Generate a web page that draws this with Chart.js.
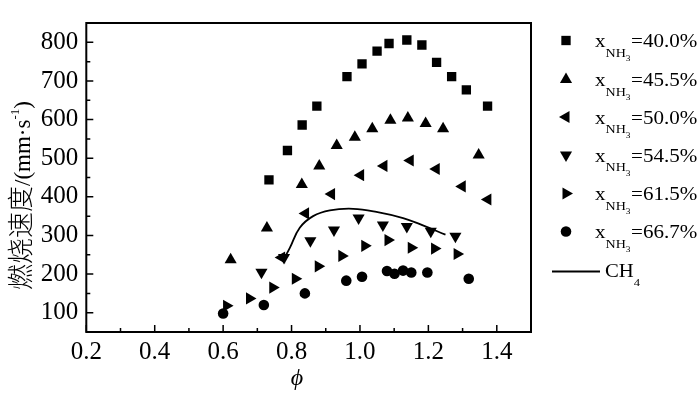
<!DOCTYPE html>
<html><head><meta charset="utf-8">
<script src="https://cdn.jsdelivr.net/npm/chart.js@4.4.1/dist/chart.umd.min.js"></script>
<style>html,body{margin:0;padding:0;background:#fff}#wrap{width:700px;height:396px;position:relative}</style>
</head><body><div id="wrap"><canvas id="c" width="700" height="396"></canvas></div>
<script>
// ---- data ----
const phi40 = [0.734,0.788,0.831,0.874,0.962,1.006,1.050,1.085,1.137,1.181,1.224,1.268,1.311,1.373];
const v40   = [444,520,586,635,711,744,777,797,806,793,748,711,677,635];
const phi45 = [0.622,0.728,0.830,0.881,0.932,0.985,1.036,1.089,1.140,1.192,1.243,1.347];
const v45   = [237,319,432,480,533,554,576,598,604,590,576,508];
const phi50 = [0.771,0.841,0.917,1.002,1.070,1.147,1.223,1.299,1.374];
const v50   = [243,357,407,456,480,494,472,427,393];
const phi54 = [0.712,0.778,0.855,0.924,0.996,1.067,1.137,1.207,1.279];
const v54   = [205,243,286,314,345,327,323,311,298];
const phi61 = [0.610,0.677,0.745,0.811,0.878,0.947,1.014,1.082,1.150,1.218,1.284];
const v61   = [118,137,165,188,220,247,273,288,268,266,252];
const phi66 = [0.600,0.719,0.839,0.960,1.006,1.079,1.101,1.126,1.150,1.197,1.318];
const v66   = [98,120,150,183,193,208,201,209,204,204,188];
const phiCH4 = [0.775,0.795,0.824,0.863,0.912,0.980,1.048,1.126,1.184,1.250];
const vCH4   = [235,268,320,350,365,369,361,345,326,302];
const seriesPct = ['40.0%','45.5%','50.0%','54.5%','61.5%','66.7%'];
const lineLabel = 'CH';
const xTicks = [0.2,0.4,0.6,0.8,1.0,1.2,1.4];
const xMinor = [0.3,0.5,0.7,0.9,1.1,1.3];
const yTicks = [100,200,300,400,500,600,700,800];
const yMinor = [150,250,350,450,550,650,750];
const yTitleCJK = '燃烧速度';
const xTitle = 'ϕ';

const pts = (xs, ys) => xs.map((x, i) => ({x, y: ys[i]}));
const styles = [
  {pointStyle:'rect', rotation:0, radius:6.6},
  {pointStyle:'triangle', rotation:0, radius:7},
  {pointStyle:'triangle', rotation:270, radius:7},
  {pointStyle:'triangle', rotation:180, radius:7},
  {pointStyle:'triangle', rotation:90, radius:7},
  {pointStyle:'circle', rotation:0, radius:5.3}
];
const series = [[phi40,v40],[phi45,v45],[phi50,v50],[phi54,v54],[phi61,v61],[phi66,v66]];
const datasets = series.map((s, i) => ({
  type:'scatter', label:'x' + seriesPct[i], data: pts(s[0], s[1]),
  pointStyle: styles[i].pointStyle, rotation: styles[i].rotation,
  pointRadius: styles[i].radius, backgroundColor:'#000', borderColor:'#000', borderWidth:0,
  showLine:false
}));
datasets.push({type:'line', label:'CH4', data: pts(phiCH4, vCH4), borderColor:'#000',
  borderWidth:1.8, pointRadius:0, tension:0.4, fill:false});

const SERIF = '"Liberation Serif", "Times New Roman", serif';

const deco = {
  id:'deco',
  afterDraw(chart){
    const ctx = chart.ctx, a = chart.chartArea, xs = chart.scales.x, ys = chart.scales.y;
    ctx.save();
    ctx.strokeStyle = '#000';
    // ticks inward
    ctx.lineWidth = 1.5;
    ctx.beginPath();
    xTicks.forEach(v => { const p = xs.getPixelForValue(v); ctx.moveTo(p, a.bottom); ctx.lineTo(p, a.bottom - 7); });
    xMinor.forEach(v => { const p = xs.getPixelForValue(v); ctx.moveTo(p, a.bottom); ctx.lineTo(p, a.bottom - 4); });
    yTicks.forEach(v => { const p = ys.getPixelForValue(v); ctx.moveTo(a.left, p); ctx.lineTo(a.left + 7, p); });
    yMinor.forEach(v => { const p = ys.getPixelForValue(v); ctx.moveTo(a.left, p); ctx.lineTo(a.left + 4, p); });
    ctx.stroke();
    // frame
    ctx.lineWidth = 2;
    ctx.strokeRect(a.left, a.top, a.right - a.left, a.bottom - a.top);

    // x title
    ctx.fillStyle = '#000';
    ctx.font = 'italic 24px ' + SERIF;
    ctx.textAlign = 'center';
    ctx.textBaseline = 'alphabetic';
    ctx.fillText(xTitle, 297, 385);

    // y title (rotated)
    ctx.save();
    ctx.translate(0, 290);
    ctx.rotate(-Math.PI / 2);
    ctx.textAlign = 'left';
    let xx = 0;
    ctx.font = '300 26px "Noto Sans CJK SC"';
    ctx.fillText(yTitleCJK, xx, 30); xx += ctx.measureText(yTitleCJK).width;
    ctx.font = '23px ' + SERIF;
    ctx.fillText('/(mm·s', xx, 30); xx += ctx.measureText('/(mm·s').width;
    ctx.font = '13px ' + SERIF;
    ctx.fillText('-1', xx, 19); xx += ctx.measureText('-1').width;
    ctx.font = '23px ' + SERIF;
    ctx.fillText(')', xx, 30);
    ctx.restore();

    // legend
    const baselines = [47, 86, 123.5, 161.5, 200, 238];
    const mx = 566;
    ctx.textAlign = 'left';
    baselines.forEach((b, i) => {
      const st = styles[i];
      const opts = {pointStyle: st.pointStyle, rotation: st.rotation, radius: st.radius, borderWidth:0};
      ctx.fillStyle = '#000';
      if (Chart.helpers && Chart.helpers.drawPoint) {
        Chart.helpers.drawPoint(ctx, opts, mx, b - 6.5);
      }
      ctx.save();
      ctx.translate(595, b);
      ctx.scale(1.17, 1);
      let x = 0;
      ctx.font = '18px ' + SERIF;
      ctx.fillText('x', x, 0); x += ctx.measureText('x').width;
      ctx.font = '12px ' + SERIF;
      ctx.fillText('NH', x, 9.5); x += ctx.measureText('NH').width;
      ctx.font = '8px ' + SERIF;
      ctx.fillText('3', x, 14); x += ctx.measureText('3').width + 0.5;
      ctx.font = '18px ' + SERIF;
      ctx.fillText('=' + seriesPct[i], x, 0);
      ctx.restore();
    });
    // CH4 line legend
    ctx.lineWidth = 1.8;
    ctx.beginPath(); ctx.moveTo(552, 271.5); ctx.lineTo(600, 271.5); ctx.stroke();
    ctx.save();
    ctx.translate(605, 277);
    ctx.scale(1.15, 1);
    ctx.font = '18px ' + SERIF;
    ctx.fillText(lineLabel, 0, 0);
    const w = ctx.measureText(lineLabel).width;
    ctx.font = '11px ' + SERIF;
    ctx.fillText('4', w, 9);
    ctx.restore();
    ctx.restore();
  }
};

new Chart(document.getElementById('c'), {
  data: {datasets},
  options: {
    responsive:false, animation:false, devicePixelRatio:1,
    layout:{padding:{top:4, right:169, bottom:0, left:0}},
    plugins:{legend:{display:false}, tooltip:{enabled:false}},
    events:[],
    scales:{
      x:{type:'linear', min:0.2, max:1.5,
        afterBuildTicks: s => { s.ticks = xTicks.map(v => ({value:v})); },
        afterFit: s => { s.height = 64; },
        grid:{display:false, drawTicks:false}, border:{display:false},
        ticks:{color:'#000', padding:5, font:{family:SERIF, size:25}, maxRotation:0,
          callback: v => Number(v).toFixed(1)}
      },
      y:{type:'linear', min:50, max:850,
        afterBuildTicks: s => { s.ticks = yTicks.map(v => ({value:v})); },
        afterFit: s => { s.width = 86.3; },
        grid:{display:false, drawTicks:false}, border:{display:false},
        ticks:{color:'#000', padding:8, font:{family:SERIF, size:25},
          callback: v => String(v)}
      }
    }
  },
  plugins:[deco]
});
</script>
</body></html>
